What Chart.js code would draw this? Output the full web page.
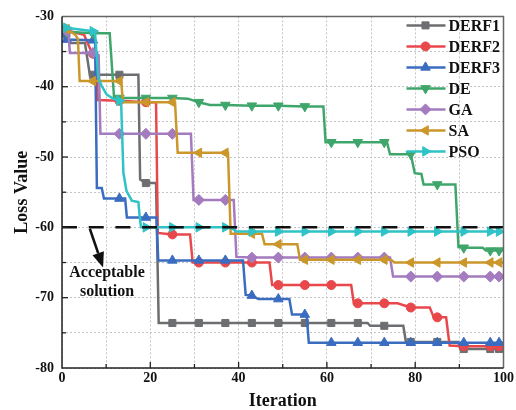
<!DOCTYPE html>
<html>
<head>
<meta charset="utf-8">
<title>Loss Value vs Iteration</title>
<script src="https://cdn.jsdelivr.net/npm/chart.js@4.4.1/dist/chart.umd.min.js"></script>
<style>
  html, body { margin: 0; padding: 0; background: #fff; }
  #wrap { width: 516px; height: 410px; }
</style>
</head>
<body>
<div id="wrap"><canvas id="lossChart" width="516" height="410"></canvas></div>
<script>
// ---- values (iteration / loss breakpoints per algorithm) ----
const seriesNames = ['DERF1', 'DERF2', 'DERF3', 'DE', 'GA', 'SA', 'PSO'];
const markerIters = [1, 7, 13, 19, 25, 31, 37, 43, 49, 55, 61, 67, 73, 79, 85, 91, 97, 99];
const acceptableLoss = -60;

const derf1Iter = [0, 1, 2, 5.2, 6.3, 7, 13, 17.3, 17.7, 19, 21.3, 21.9, 25, 31, 37, 43, 49, 55, 61, 67, 69.2, 69.8, 73, 77.3, 77.9, 79, 85, 89.7, 90.2, 91, 97, 99, 100];
const derf1Loss = [-31.8, -32.5, -33.8, -33.8, -38.3, -38.3, -38.3, -38.3, -53.2, -53.7, -53.7, -73.6, -73.6, -73.6, -73.6, -73.6, -73.6, -73.6, -73.6, -73.6, -73.6, -74.0, -74.0, -74.0, -76.3, -76.3, -76.3, -76.3, -77.3, -77.3, -77.3, -77.3, -77.3];

const derf2Iter = [0, 1, 5, 6.5, 7, 7.6, 8.1, 13, 19, 21.3, 21.7, 25, 29, 29.6, 31, 37, 43, 47, 47.6, 49, 55, 61, 65.5, 66.1, 67, 73, 76, 79, 83.3, 84.2, 85, 87, 87.8, 91, 97, 99, 100];
const derf2Loss = [-31.6, -32.0, -32.6, -34.8, -35.3, -35.5, -41.9, -42.0, -42.2, -42.2, -60.8, -61.0, -61.0, -65.0, -65.0, -65.0, -65.0, -65.0, -68.2, -68.2, -68.2, -68.2, -68.2, -70.8, -70.8, -70.8, -70.8, -71.4, -71.4, -72.8, -72.8, -72.8, -76.8, -76.9, -76.9, -76.9, -76.9];

const derf3Iter = [0, 1, 7, 7.5, 7.9, 9, 9.5, 13, 14.3, 14.7, 19, 21.4, 21.8, 25, 31, 37, 41, 41.6, 43, 44.5, 49, 51.5, 52.1, 55, 55.4, 55.9, 61, 67, 73, 79, 85, 91, 97, 99, 100];
const derf3Loss = [-32.0, -33.3, -33.4, -33.4, -54.4, -54.4, -55.9, -55.9, -55.9, -58.6, -58.6, -58.6, -64.7, -64.7, -64.7, -64.7, -64.7, -69.6, -69.7, -70.2, -70.2, -70.2, -72.4, -72.4, -72.4, -76.4, -76.4, -76.4, -76.4, -76.4, -76.4, -76.4, -76.4, -76.4, -76.4];

const deIter = [0, 1, 7, 10.8, 11.8, 13, 19, 25, 28.5, 31, 33.5, 37, 43, 49, 55, 59.2, 59.7, 61, 67, 73, 73.6, 74.3, 79, 79.9, 81.4, 81.9, 85, 89.1, 89.8, 91, 95.3, 96, 97, 99, 100];
const deLoss = [-31.6, -32.2, -32.4, -32.4, -41.6, -41.6, -41.6, -41.6, -41.7, -42.2, -42.6, -42.6, -42.7, -42.7, -42.8, -42.8, -47.9, -47.9, -47.9, -47.9, -47.9, -49.6, -49.6, -52.3, -52.4, -53.9, -53.9, -53.9, -62.8, -62.9, -62.9, -63.3, -63.3, -63.3, -63.3];

const gaIter = [0, 1, 1.4, 1.8, 7, 8.3, 8.7, 13, 19, 25, 29.2, 29.8, 31, 37, 38.9, 39.5, 43, 49, 55, 61, 67, 73, 74.3, 75, 79, 85, 91, 97, 99, 100];
const gaLoss = [-31.4, -32.0, -32.2, -35.2, -35.2, -35.5, -46.7, -46.7, -46.7, -46.7, -46.7, -56.1, -56.1, -56.1, -56.1, -64.2, -64.3, -64.3, -64.3, -64.3, -64.3, -64.3, -64.3, -67.0, -67.0, -67.0, -67.0, -67.0, -67.0, -67.0];

const saIter = [0, 1, 3, 3.6, 4.0, 7, 13, 13.4, 13.8, 19, 25, 25.6, 26.2, 31, 37, 37.6, 38.2, 43, 45.3, 45.9, 49, 53.3, 53.9, 55, 61, 67, 73, 74.5, 75.3, 79, 85, 91, 97, 99, 100];
const saLoss = [-31.4, -31.8, -32.6, -33.2, -39.2, -39.2, -39.2, -39.2, -42.2, -42.2, -42.2, -42.2, -49.4, -49.4, -49.4, -49.4, -60.9, -60.9, -60.9, -62.4, -62.4, -62.4, -64.6, -64.6, -64.6, -64.6, -64.6, -64.6, -65.0, -65.0, -65.0, -65.0, -65.0, -65.0, -65.0];

const psoIter = [0, 1, 7, 7.5, 8.2, 9.0, 10.1, 11.6, 12.7, 13, 13.4, 13.9, 14.6, 15.8, 17.3, 17.6, 17.9, 19, 25, 31, 37, 38.3, 39.5, 43, 49, 55, 61, 67, 73, 79, 85, 91, 97, 99, 100];
const psoLoss = [-31.4, -31.6, -32.1, -32.4, -38.7, -39.9, -41.1, -41.7, -42.0, -42.0, -42.4, -52.2, -54.8, -56.2, -56.4, -58.5, -60.0, -60.0, -60.0, -60.0, -60.0, -60.1, -60.6, -60.6, -60.6, -60.6, -60.6, -60.6, -60.6, -60.6, -60.6, -60.6, -60.6, -60.6, -60.6];

// ---- styling ----
const FONT = '"Liberation Serif", "Times New Roman", serif';
const styles = [
    { color: '#6d6e71', pointStyle: 'rect', radius: 5, rotation: 0 },
    { color: '#e8484b', pointStyle: 'circle', radius: 4.5, rotation: 0 },
    { color: '#3a6cc0', pointStyle: 'triangle', radius: 5.5, rotation: 0 },
    { color: '#3fa66b', pointStyle: 'triangle', radius: 5.5, rotation: 180 },
    { color: '#a47bbf', pointStyle: 'rectRot', radius: 5.5, rotation: 0 },
    { color: '#cb972b', pointStyle: 'triangle', radius: 5.5, rotation: 270 },
    { color: '#2fc2c6', pointStyle: 'triangle', radius: 5.5, rotation: 90 }
];
const seriesIters = [derf1Iter, derf2Iter, derf3Iter, deIter, gaIter, saIter, psoIter];
const seriesLoss = [derf1Loss, derf2Loss, derf3Loss, deLoss, gaLoss, saLoss, psoLoss];

const datasets = seriesNames.map((name, i) => {
    const st = styles[i];
    return {
        label: name,
        data: seriesIters[i].map((x, k) => ({ x: x, y: seriesLoss[i][k] })),
        borderColor: st.color,
        backgroundColor: st.color,
        borderWidth: 2.5,
        pointStyle: st.pointStyle,
        pointRotation: st.rotation,
        pointBackgroundColor: st.color,
        pointBorderColor: st.color,
        pointBorderWidth: 1,
        pointRadius: ctx => (ctx.parsed && markerIters.includes(ctx.parsed.x)) ? st.radius : 0,
        tension: 0,
        order: seriesNames.length - i
    };
});

// dashed "acceptable solution" level
datasets.push({
    label: 'acceptable',
    data: [{ x: 0, y: acceptableLoss }, { x: 100, y: acceptableLoss }],
    borderColor: '#111',
    borderWidth: 2.5,
    borderDash: [15, 11.7],
    pointRadius: 0,
    order: 0
});

// frame, inward ticks, annotation arrow, legend
const decorPlugin = {
    id: 'decor',
    afterDatasetsDraw(chart) {
        const { ctx, chartArea: a, scales: { x, y } } = chart;
        ctx.save();

        // arrow + label for the acceptable level
        const x0 = x.getPixelForValue(6.3), y0 = y.getPixelForValue(-60.2);
        const x1 = x.getPixelForValue(9.3), y1 = y.getPixelForValue(-65.7);
        const ang = Math.atan2(y1 - y0, x1 - x0);
        const headLen = 15, headW = 6;
        const bx = x1 - headLen * Math.cos(ang), by = y1 - headLen * Math.sin(ang);
        ctx.strokeStyle = '#111';
        ctx.fillStyle = '#111';
        ctx.lineWidth = 2.5;
        ctx.beginPath();
        ctx.moveTo(x0, y0);
        ctx.lineTo(bx, by);
        ctx.stroke();
        ctx.beginPath();
        ctx.moveTo(x1, y1);
        ctx.lineTo(bx + headW * Math.sin(ang), by - headW * Math.cos(ang));
        ctx.lineTo(bx - headW * Math.sin(ang), by + headW * Math.cos(ang));
        ctx.closePath();
        ctx.fill();

        ctx.font = 'bold 16px ' + FONT;
        ctx.textAlign = 'center';
        ctx.textBaseline = 'middle';
        ctx.fillText('Acceptable', x.getPixelForValue(10.2), y.getPixelForValue(-66.5));
        ctx.fillText('solution', x.getPixelForValue(10.2), y.getPixelForValue(-69.2));

        // legend (line + marker + name)
        ctx.font = 'bold 16px ' + FONT;
        ctx.textAlign = 'left';
        seriesNames.forEach((name, i) => {
            const st = styles[i];
            const ly = a.top + 9 + i * 21;
            ctx.strokeStyle = st.color;
            ctx.lineWidth = 2.5;
            ctx.beginPath();
            ctx.moveTo(a.right - 97, ly);
            ctx.lineTo(a.right - 58, ly);
            ctx.stroke();
            ctx.fillStyle = st.color;
            ctx.strokeStyle = st.color;
            ctx.lineWidth = 1;
            Chart.helpers.drawPoint(ctx, {
                pointStyle: st.pointStyle, radius: st.radius, rotation: st.rotation, borderWidth: 1
            }, a.right - 78, ly);
            ctx.fillStyle = '#111';
            ctx.fillText(name, a.right - 55, ly + 1);
        });

        // plot frame
        ctx.lineWidth = 1.5;
        ctx.strokeStyle = '#666';
        ctx.beginPath();
        ctx.moveTo(a.left, a.top);
        ctx.lineTo(a.right, a.top);
        ctx.lineTo(a.right, a.bottom);
        ctx.stroke();
        ctx.strokeStyle = '#222';
        ctx.beginPath();
        ctx.moveTo(a.left, a.top);
        ctx.lineTo(a.left, a.bottom);
        ctx.lineTo(a.right, a.bottom);
        ctx.stroke();

        // inward ticks
        ctx.lineWidth = 1.3;
        for (let v = -75; v < -30; v += 5) {
            const py = y.getPixelForValue(v);
            const len = v % 10 === 0 ? 6 : 4;
            ctx.beginPath();
            ctx.moveTo(a.left, py);
            ctx.lineTo(a.left + len, py);
            ctx.stroke();
        }
        for (let v = 10; v < 100; v += 10) {
            const px = x.getPixelForValue(v);
            const len = v % 20 === 0 ? 6 : 4;
            ctx.beginPath();
            ctx.moveTo(px, a.bottom);
            ctx.lineTo(px, a.bottom - len);
            ctx.stroke();
        }
        ctx.restore();
    }
};

const tickFont = { family: FONT, size: 14, weight: 'bold' };
const titleFont = { family: FONT, size: 18, weight: 'bold', lineHeight: 1 };

new Chart(document.getElementById('lossChart'), {
    type: 'line',
    data: { datasets: datasets },
    options: {
        responsive: false,
        devicePixelRatio: 1,
        animation: false,
        layout: { padding: { top: 15, right: 12, left: 0, bottom: 0 } },
        plugins: {
            legend: { display: false },
            tooltip: { enabled: false }
        },
        scales: {
            x: {
                type: 'linear',
                min: 0,
                max: 100,
                afterFit: scale => { scale.height = 42; },
                ticks: {
                    stepSize: 10,
                    autoSkip: false,
                    maxRotation: 0,
                    padding: 2,
                    color: '#111',
                    font: tickFont,
                    callback: v => (v % 20 === 0 ? v : '')
                },
                grid: { color: '#c4c4c4', lineWidth: 1, drawTicks: false },
                border: { display: false, dash: [2, 2] },
                title: { display: true, text: 'Iteration', color: '#111', font: titleFont, padding: { top: 0, bottom: 0 } }
            },
            y: {
                min: -80,
                max: -30,
                afterFit: scale => { scale.width = 62; },
                ticks: {
                    stepSize: 5,
                    padding: 8,
                    color: '#111',
                    font: tickFont,
                    callback: v => (v % 10 === 0 ? v : '')
                },
                grid: { color: '#c4c4c4', lineWidth: 1, drawTicks: false },
                border: { display: false, dash: [2, 2] },
                title: { display: true, text: 'Loss Value', color: '#111', font: titleFont, padding: { top: 13, bottom: 0 } }
            }
        }
    },
    plugins: [decorPlugin]
});
</script>
</body>
</html>
